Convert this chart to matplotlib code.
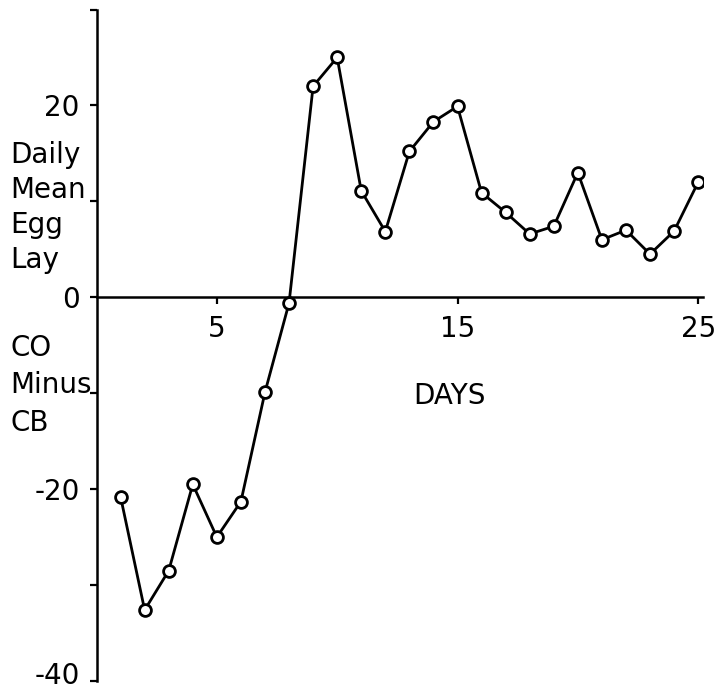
import matplotlib
matplotlib.use("Agg")
import matplotlib.pyplot as plt
from matplotlib.ticker import FixedLocator
from matplotlib.transforms import ScaledTranslation

days = list(range(1, 26))
egg_lay_diff = [-20.8, -32.6, -28.5, -19.5, -25.0, -21.3, -9.9, -0.6, 22.0, 25.0,
                11.1, 6.85, 15.2, 18.3, 19.9, 10.9, 8.85, 6.6, 7.4, 13.0,
                6.0, 7.0, 4.5, 6.9, 12.0]
x_ticks = [5, 15, 25]
y_major = [20, 0, -20, -40]
y_all = [30, 20, 10, 0, -10, -20, -30, -40]
y_label_lines = ["Daily", "Mean", "Egg", "Lay"]
y_label_lines2 = ["CO", "Minus", "CB"]
x_label = "DAYS"

plt.rcParams['font.family'] = ['DejaVu Sans']
fig = plt.figure(figsize=(7.16, 6.92), dpi=100)
bottom_px = 681
top_px = 9.5
ax = fig.add_axes([0.1348, 1 - bottom_px / 692, 0.9818 - 0.1348, (bottom_px - top_px) / 692])

ax.plot(days, egg_lay_diff, color='black', lw=2.0, marker='o', ms=8.5,
        mfc='white', mec='black', mew=2.0, zorder=3)

ax.set_xlim(0, 25.2)
ax.set_ylim(-40, 30)
ax.spines['top'].set_visible(False)
ax.spines['right'].set_visible(False)
ax.spines['bottom'].set_position(('data', 0))
ax.spines['bottom'].set_linewidth(1.8)
ax.spines['left'].set_linewidth(1.8)

ax.xaxis.set_major_locator(FixedLocator(x_ticks))
ax.set_xticklabels([str(t) for t in x_ticks])
ax.yaxis.set_major_locator(FixedLocator(y_all))
ax.set_yticklabels([str(t) if t in y_major else '' for t in y_all])
ax.tick_params(axis='x', direction='out', length=5, width=1.6, labelsize=20, pad=8)
ax.tick_params(axis='y', direction='out', length=5, width=1.6, labelsize=20, pad=7)

# keep the bottom tick label inside the canvas
last_tick = ax.yaxis.get_major_ticks()[-1]
last_tick.label1.set_transform(last_tick.label1.get_transform()
                               + ScaledTranslation(0, 6 / 72, fig.dpi_scale_trans))

baselines1 = [163, 198, 233, 268]
for txt, b in zip(y_label_lines, baselines1):
    fig.text(10 / 716, 1 - b / 692, txt, fontsize=20, ha='left', va='baseline')
baselines2 = [356, 393, 431]
for txt, b in zip(y_label_lines2, baselines2):
    fig.text(10 / 716, 1 - b / 692, txt, fontsize=20, ha='left', va='baseline')

fig.text(449 / 716, 1 - 404 / 692, x_label, fontsize=20, ha='center', va='baseline')

fig.savefig('out.png', dpi=100)
